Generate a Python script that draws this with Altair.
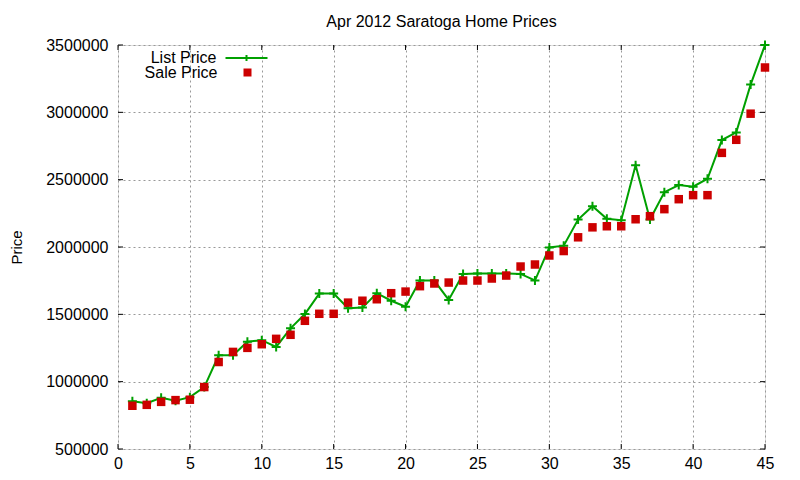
import altair as alt
import pandas as pd

title = "Apr 2012 Saratoga Home Prices"
months = list(range(1, 46))
list_price = [855000, 840000, 880000, 858000, 885000, 960000, 1196000, 1196000, 1296000, 1308000,
              1258000, 1396000, 1502000, 1654000, 1654000, 1545000, 1550000, 1657000, 1601000, 1557000,
              1751000, 1751000, 1607000, 1799000, 1803000, 1803000, 1803000, 1800000, 1751000, 1997000,
              2010000, 2204000, 2303000, 2209000, 2199000, 2607000, 2204000, 2407000, 2460000, 2448000,
              2507000, 2794000, 2851000, 3206000, 3500000]
sale_price = [821000, 828000, 850000, 863000, 866000, 960000, 1146000, 1221000, 1251000, 1278000,
              1318000, 1348000, 1452000, 1504000, 1504000, 1587000, 1601000, 1612000, 1657000, 1669000,
              1709000, 1729000, 1736000, 1751000, 1751000, 1766000, 1788000, 1855000, 1870000, 1937000,
              1970000, 2072000, 2146000, 2154000, 2154000, 2206000, 2229000, 2281000, 2355000, 2385000,
              2385000, 2699000, 2796000, 2990000, 3333000]
series_names = ["List Price", "Sale Price"]
series_colors = ["#00a000", "#cc0000"]
x_ticks = [0, 5, 10, 15, 20, 25, 30, 35, 40, 45]
y_ticks = [500000, 1000000, 1500000, 2000000, 2500000, 3000000, 3500000]

W, H = 647, 404
FONT = "Liberation Sans"
FS = 16

df_list = pd.DataFrame({"x": months, "price": list_price, "series": series_names[0]})
df_sale = pd.DataFrame({"x": months, "price": sale_price, "series": series_names[1]})

xs = alt.Scale(domain=[x_ticks[0], x_ticks[-1]], nice=False)
ys = alt.Scale(domain=[y_ticks[0], y_ticks[-1]], nice=False)
list_scale = alt.Scale(domain=[series_names[0]], range=[series_colors[0]])
sale_scale = alt.Scale(domain=[series_names[1]], range=[series_colors[1]])

line_sym = "M-1,0H1M0,-0.14V0.14"

list_legend = alt.Legend(
    title=None, orient="none", legendX=106.5, legendY=-9, padding=0,
    symbolType=line_sym, symbolSize=1764, symbolStrokeWidth=2, symbolStrokeColor=series_colors[0],
    symbolFillColor="transparent", symbolOpacity=1,
    labelAlign="right", labelOffset={"expr": "-52"},
    labelFont=FONT, labelFontSize=FS, labelColor="black",
)
sale_legend = alt.Legend(
    title=None, orient="none", legendX=121.5, legendY=19.5, padding=0,
    symbolType="square", symbolSize=64, symbolStrokeWidth=0, symbolFillColor=series_colors[1],
    symbolOpacity=1,
    labelAlign="right", labelOffset={"expr": "-38"},
    labelFont=FONT, labelFontSize=FS, labelColor="black",
)

x_axis = alt.Axis(values=x_ticks, ticks=False, grid=True, gridDash=[2, 3], gridColor="#999999",
                  labelFont=FONT, labelFontSize=FS, labelColor="black", labelPadding=6,
                  labelFlush=False, domain=False, title=None)
y_axis = alt.Axis(values=y_ticks, ticks=False, grid=True, gridDash=[2, 3], gridColor="#999999",
                  format="d", labelFont=FONT, labelFontSize=FS, labelColor="black", labelPadding=10,
                  labelFlush=False, domain=False, title="Price", titleFont=FONT, titleFontSize=15,
                  titleFontWeight="normal", titleColor="black", titleX=-102, titleY=H / 2,
                  titleBaseline="middle", titleAlign="center")

base = alt.Chart(df_list)
line = base.mark_line(strokeWidth=2).encode(
    x=alt.X("x:Q", scale=xs, axis=x_axis),
    y=alt.Y("price:Q", scale=ys, axis=y_axis),
    stroke=alt.Stroke("series:N", scale=list_scale, legend=list_legend),
)
crosses = base.mark_point(shape="M-1,0H1M0,-1V1", size=81, strokeWidth=2, filled=False, opacity=1).encode(
    x=alt.X("x:Q", scale=xs),
    y=alt.Y("price:Q", scale=ys),
    stroke=alt.Stroke("series:N", scale=list_scale, legend=list_legend),
)
squares = alt.Chart(df_sale).mark_square(size=72, opacity=1, strokeWidth=0).encode(
    x=alt.X("x:Q", scale=xs),
    y=alt.Y("price:Q", scale=ys),
    fill=alt.Fill("series:N", scale=sale_scale, legend=sale_legend),
)

ydf = pd.DataFrame({"v": y_ticks})
xdf = pd.DataFrame({"v": x_ticks})
TL = 5
yt_left = alt.Chart(ydf).mark_rule(color="black").encode(
    y=alt.Y("v:Q", scale=ys), x=alt.value(0), x2=alt.value(TL))
yt_right = alt.Chart(ydf).mark_rule(color="black").encode(
    y=alt.Y("v:Q", scale=ys), x=alt.value(W - TL), x2=alt.value(W))
xt_bot = alt.Chart(xdf).mark_rule(color="black").encode(
    x=alt.X("v:Q", scale=xs), y=alt.value(H - TL), y2=alt.value(H))
xt_top = alt.Chart(xdf).mark_rule(color="black").encode(
    x=alt.X("v:Q", scale=xs), y=alt.value(0), y2=alt.value(TL))

chart = alt.layer(yt_left, yt_right, xt_bot, xt_top, line, crosses, squares).properties(
    width=W, height=H,
    title=alt.TitleParams(title, font=FONT, fontSize=FS, fontWeight="normal", color="black",
                          anchor="middle", offset=6),
    autosize=alt.AutoSizeParams(type="none"),
    padding={"left": 110, "top": 37, "right": 27, "bottom": 30},
).configure_view(stroke="black", strokeWidth=1.2).configure(background="white")

chart.save("out.html", embed_options={"renderer": "svg", "actions": False})
